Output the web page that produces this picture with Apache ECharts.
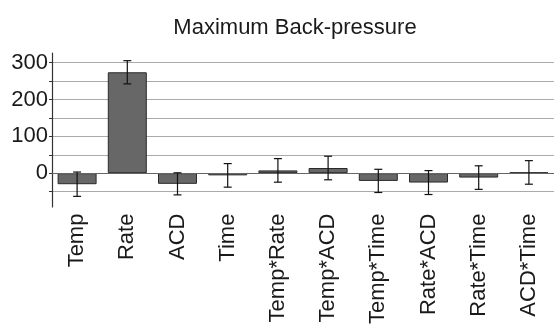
<!DOCTYPE html>
<html>
<head>
<meta charset="utf-8">
<script src="https://cdn.jsdelivr.net/npm/echarts@6/dist/echarts.min.js"></script>
<style>
  html, body { margin: 0; padding: 0; background: #fff; }
  #main { width: 554px; height: 327px; }
</style>
</head>
<body>
<div id="main"></div>
<script>
// effect estimates with +/- error bars
const categories = ["Temp", "Rate", "ACD", "Time", "Temp*Rate", "Temp*ACD", "Temp*Time", "Rate*ACD", "Rate*Time", "ACD*Time"];
const effects = [-30, 274, -29, -6, 7.5, 14, -21, -25.5, -12, 2];
const errors = [33, 31.5, 30, 32, 32, 32, 31.5, 32.5, 32, 32];
const yTicks = [-50, 0, 50, 100, 150, 200, 250, 300];

const font = "Liberation Sans, Arial, sans-serif";
const errorData = effects.map((v, i) => [i, v - errors[i], v + errors[i]]);

const chart = echarts.init(document.getElementById("main"));
chart.setOption({
  backgroundColor: "#fff",
  animation: false,
  title: {
    text: "Maximum Back-pressure",
    left: 290,
    top: 12,
    textAlign: "center",
    textStyle: { fontFamily: font, fontSize: 22, fontWeight: "normal", color: "#1a1a1a" }
  },
  grid: [
    { left: 52, right: 0, top: 62.7, bottom: 131.7 },
    // only used for the longer y axis line
    { left: 52, right: 0, top: 53, bottom: 120 }
  ],
  xAxis: [
    {
      type: "category",
      data: categories,
      gridIndex: 0,
      axisLine: { show: false },
      axisTick: { show: false },
      axisLabel: {
        rotate: 90,
        margin: 22,
        padding: [8, 0, 0, 0],
        fontFamily: font,
        fontSize: 22,
        color: "#1a1a1a"
      }
    },
    { type: "value", gridIndex: 1, show: false }
  ],
  yAxis: [
    {
      type: "value",
      gridIndex: 0,
      min: yTicks[0],
      max: yTicks[yTicks.length - 1],
      interval: 50,
      axisLine: { show: false },
      axisTick: { show: true, length: 3, lineStyle: { color: "#333" } },
      splitLine: { lineStyle: { color: "#aaaaaa", width: 1 } },
      axisLabel: {
        margin: 4,
        padding: [7, 0, 0, 0],
        fontFamily: font,
        fontSize: 22,
        color: "#1a1a1a",
        formatter: v => (v % 100 === 0 ? String(v) : "")
      }
    },
    {
      type: "value",
      gridIndex: 1,
      min: 0,
      max: 1,
      axisLine: { show: true, lineStyle: { color: "#333", width: 1.2 } },
      axisTick: { show: false },
      axisLabel: { show: false },
      splitLine: { show: false }
    }
  ],
  series: [
    {
      type: "bar",
      data: effects,
      barWidth: 39,
      itemStyle: { color: "#676767", borderColor: "#2a2a2a", borderWidth: 1 },
      markLine: {
        silent: true,
        symbol: "none",
        label: { show: false },
        lineStyle: { color: "#666", width: 1, type: "solid" },
        data: [{ yAxis: 0 }]
      }
    },
    {
      type: "custom",
      data: errorData,
      z: 5,
      renderItem: (params, api) => {
        const lo = api.coord([api.value(0), api.value(1)]);
        const hi = api.coord([api.value(0), api.value(2)]);
        const w = 4;
        const style = { stroke: "#111", lineWidth: 1.2 };
        return {
          type: "group",
          children: [
            { type: "line", shape: { x1: hi[0], y1: hi[1], x2: lo[0], y2: lo[1] }, style },
            { type: "line", shape: { x1: hi[0] - w, y1: hi[1], x2: hi[0] + w, y2: hi[1] }, style },
            { type: "line", shape: { x1: lo[0] - w, y1: lo[1], x2: lo[0] + w, y2: lo[1] }, style }
          ]
        };
      }
    }
  ]
});
</script>
</body>
</html>
